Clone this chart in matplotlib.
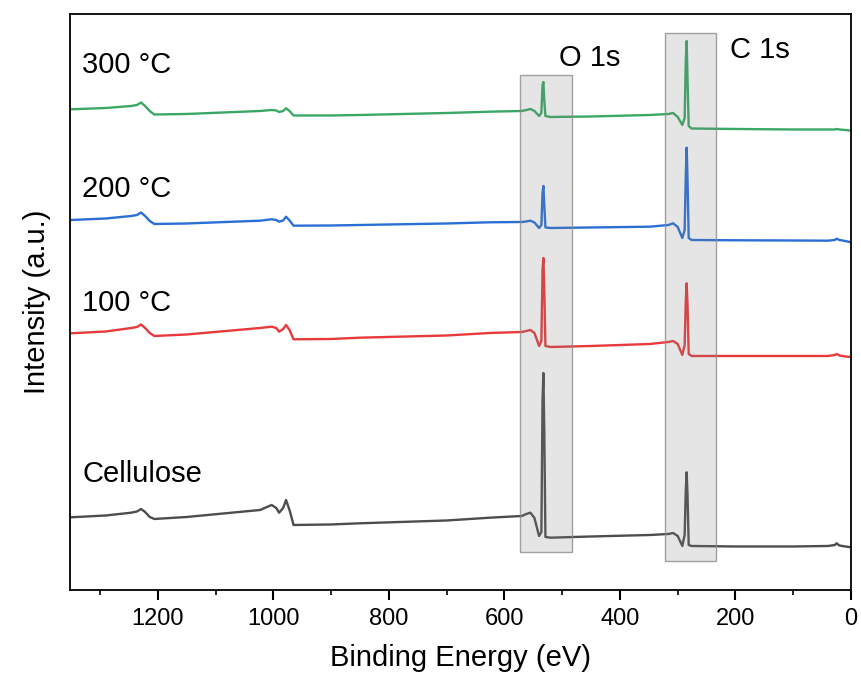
import matplotlib.pyplot as plt
from matplotlib.patches import Rectangle
from matplotlib.ticker import MultipleLocator

plt.rcParams['font.family'] = ['Liberation Sans', 'DejaVu Sans']

# binding energy keypoints (eV)
energy = [1350, 1290, 1246, 1236, 1229, 1222, 1214, 1206, 1150, 1023,
          1003, 995, 990, 983, 978, 972, 965, 900, 850, 700,
          625, 570, 562, 555, 548, 540, 536, 534, 532.5, 531,
          529, 520, 450, 348, 316, 308, 300, 292, 288, 286,
          284.5, 283, 281, 276, 200, 100, 40, 28, 25, 20,
          10, 0]

# intensities (a.u., already offset for stacking)
cellulose = [72.7, 74.5, 77.3, 78.5, 81, 78, 73, 71, 73, 80,
             85, 82, 77.3, 82, 90, 80, 65, 65.5, 66.7, 69.5,
             72.3, 74, 76, 77.3, 72, 54, 58, 190, 217, 160,
             53, 52.3, 53.5, 55, 56, 57, 54, 44, 55, 100,
             117.7, 95, 45, 44, 43.5, 43.5, 44, 45, 46.7, 44.5,
             43.5, 42.7]
t100 = [256.7, 258.5, 262, 263, 265.5, 262, 257, 254, 255.5, 262,
        263.3, 262, 258.3, 261, 265, 260, 250.7, 251, 252.3, 254.5,
        257, 258, 259, 260, 257, 244, 249, 320, 332, 300,
        244, 243, 244, 246, 248, 249, 246, 235, 245, 290,
        306.7, 285, 236, 234, 234, 234, 234, 235, 236, 234.5,
        233.5, 233]
t200 = [370, 371.5, 374, 375, 377.5, 374, 369, 366, 366.5, 369.3,
        370.7, 370, 368.3, 369.5, 373.3, 369.5, 364.3, 364.5, 365, 366.5,
        367.7, 368, 368.5, 369.3, 367.5, 362, 365, 397, 404, 385,
        362.5, 362, 362.5, 363.3, 365, 366.7, 363, 352, 360, 415,
        442.3, 410, 352, 350, 349.7, 349.5, 349.3, 350, 351.3, 350,
        349, 347.7]
t300 = [480.7, 482, 484, 485, 487.5, 484, 479, 475.5, 476, 479,
        480, 479.5, 478, 479, 481.7, 479, 474.5, 474.5, 475, 477,
        478.3, 479, 480, 481, 479, 474, 477, 505, 508, 490,
        474, 473, 473.5, 475, 476, 477, 473, 465, 472, 530,
        549, 510, 464, 461.5, 461, 460.5, 460.5, 460.5, 461, 460.5,
        460, 459.3]

series = [cellulose, t100, t200, t300]
names = ['Cellulose', '100 °C', '200 °C', '300 °C']
colors = ['#4d4d4d', '#e8393c', '#2a6fd6', '#3aa765']
label_y = [108, 279, 393, 517]

fig = plt.figure(figsize=(8.61, 6.79), dpi=100)
ax = fig.add_axes([0.0813, 0.1311, 0.9071, 0.8483])

for s, c in zip(series, colors):
    ax.plot(energy, s, color=c, lw=1.7, zorder=2, solid_joinstyle='round')

for n, y in zip(names, label_y):
    ax.text(1331, y, n, fontsize=21, ha='left', va='baseline')

# highlighted core-level regions
ax.add_patch(Rectangle((483, 38), 90, 477, facecolor=(0.5, 0.5, 0.5, 0.2),
                       edgecolor=(0.55, 0.55, 0.55, 0.8), lw=1, zorder=3))
ax.add_patch(Rectangle((234, 29), 88, 528, facecolor=(0.5, 0.5, 0.5, 0.2),
                       edgecolor=(0.55, 0.55, 0.55, 0.8), lw=1, zorder=3))
ax.text(453, 524, 'O 1s', fontsize=21, ha='center', va='baseline')
ax.text(157, 532, 'C 1s', fontsize=21, ha='center', va='baseline')

ax.set_xlim(1352, 0)
ax.set_ylim(0, 576)
ax.set_yticks([])
ax.xaxis.set_major_locator(MultipleLocator(200))
ax.xaxis.set_minor_locator(MultipleLocator(100))
ax.tick_params(axis='x', which='major', direction='out', length=7, width=1.5,
               labelsize=17, pad=6)
ax.tick_params(axis='x', which='minor', direction='out', length=3.6, width=1.2)
for sp in ax.spines.values():
    sp.set_linewidth(1.3)

ax.set_xlabel('Binding Energy (eV)', fontsize=21, labelpad=10)
ax.set_ylabel('Intensity (a.u.)', fontsize=21, labelpad=14)

fig.savefig('out.png', dpi=100)
